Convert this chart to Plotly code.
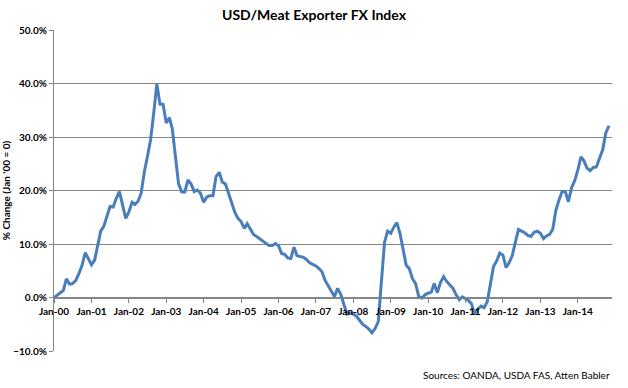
import pandas as pd
import plotly.graph_objects as go

# Monthly % change of the USD/Meat Exporter FX index (Jan '00 = 0), by year
v2000 = [0.0, 0.5, 0.8, 1.3, 3.5, 2.5, 2.6, 3.2, 4.5, 6.0, 8.4, 7.2]
v2001 = [6.1, 7.0, 9.8, 12.4, 13.3, 15.0, 17.0, 16.9, 18.6, 19.8, 17.3, 14.8]
v2002 = [16.0, 17.8, 17.4, 18.0, 19.5, 23.5, 26.3, 29.5, 34.5, 39.9, 36.1, 36.1]
v2003 = [32.6, 33.6, 31.5, 26.0, 21.3, 19.7, 19.7, 22.0, 21.2, 19.8, 20.1, 19.5]
v2004 = [17.8, 18.8, 19.0, 19.0, 22.6, 23.4, 21.6, 21.2, 19.5, 17.6, 15.9, 14.8]
v2005 = [14.2, 12.9, 13.8, 12.8, 11.8, 11.4, 11.0, 10.6, 10.1, 9.7, 9.7, 10.1]
v2006 = [9.7, 8.2, 8.1, 7.4, 7.3, 9.4, 7.8, 7.6, 7.5, 7.1, 6.5, 6.2]
v2007 = [5.9, 5.4, 4.8, 3.2, 2.2, 1.1, 0.2, 1.7, 0.6, -1.3, -3.1, -2.9]
v2008 = [-3.1, -3.5, -4.2, -5.0, -5.4, -5.9, -6.6, -5.8, -4.5, 2.5, 10.3, 12.4]
v2009 = [12.0, 13.2, 14.0, 12.0, 9.3, 6.0, 5.4, 3.5, 2.6, 0.2, -0.1, 0.5]
v2010 = [0.8, 1.0, 2.6, 0.9, 2.8, 3.9, 3.0, 2.4, 1.7, 0.5, -0.4, 0.1]
v2011 = [-0.3, -0.6, -1.2, -3.2, -2.2, -1.6, -1.9, -0.8, 2.5, 5.8, 6.8, 8.3]
v2012 = [7.9, 5.6, 6.5, 7.8, 10.3, 12.7, 12.4, 12.1, 11.6, 11.4, 12.2, 12.4]
v2013 = [12.0, 11.0, 11.5, 11.8, 12.7, 16.3, 18.2, 19.8, 19.8, 17.9, 20.5, 21.8]
v2014 = [23.8, 26.3, 25.6, 24.2, 23.7, 24.3, 24.4, 26.0, 27.6, 30.7, 32.1]

values = (v2000 + v2001 + v2002 + v2003 + v2004 + v2005 + v2006 + v2007
          + v2008 + v2009 + v2010 + v2011 + v2012 + v2013 + v2014)
months = pd.date_range("2000-01-01", periods=len(values), freq="MS")

title_text = "USD/Meat Exporter FX Index"
y_title = "% Change (Jan '00 = 0)"
source_text = "Sources: OANDA, USDA FAS, Atten Babler"

FONT = "Lato, 'DejaVu Sans', sans-serif"
GRID = "#868686"

fig = go.Figure()
fig.add_trace(go.Scatter(
    x=months, y=values, mode="lines",
    line=dict(color="#4A7EBB", width=3),
    hoverinfo="skip", showlegend=False,
))

fig.update_layout(
    width=628, height=388,
    margin=dict(l=54, r=16, t=30, b=37, autoexpand=False),
    paper_bgcolor="white", plot_bgcolor="white",
    font=dict(family=FONT, color="black"),
    title=dict(text="<b>" + title_text + "</b>", x=0.5, xanchor="center",
               y=0.962, yanchor="middle", font=dict(size=14, family=FONT)),
    xaxis=dict(
        range=["2000-01-01", "2014-12-01"],
        anchor="free", position=1/6, automargin=False,
        tickformat="%b-%y", dtick="M12", tick0="2000-01-01",
        ticks="outside", ticklen=4, tickcolor=GRID,
        showline=True, linecolor=GRID, linewidth=1,
        showgrid=False, zeroline=False,
        tickfont=dict(size=10, family=FONT, weight="bold"),
    ),
    yaxis=dict(
        range=[-10, 50], dtick=10, tickformat=".1f", ticksuffix="%",
        automargin=False,
        showgrid=True, gridcolor=GRID, gridwidth=1,
        showline=True, linecolor=GRID, linewidth=1,
        ticks="outside", ticklen=4, tickcolor=GRID,
        zeroline=False,
        tickfont=dict(size=10, family=FONT, weight="bold"),
        title=dict(text="<b>" + y_title + "</b>", standoff=6,
                   font=dict(size=10, family=FONT)),
    ),
    annotations=[dict(
        text=source_text, xref="paper", yref="paper",
        x=1.0, xanchor="right", y=-0.076, yanchor="middle",
        showarrow=False, font=dict(size=10, family=FONT),
    )],
)

fig.write_html("out.html",
               config={"displayModeBar": False, "staticPlot": True},
               post_script="document.body.style.margin='0';")
